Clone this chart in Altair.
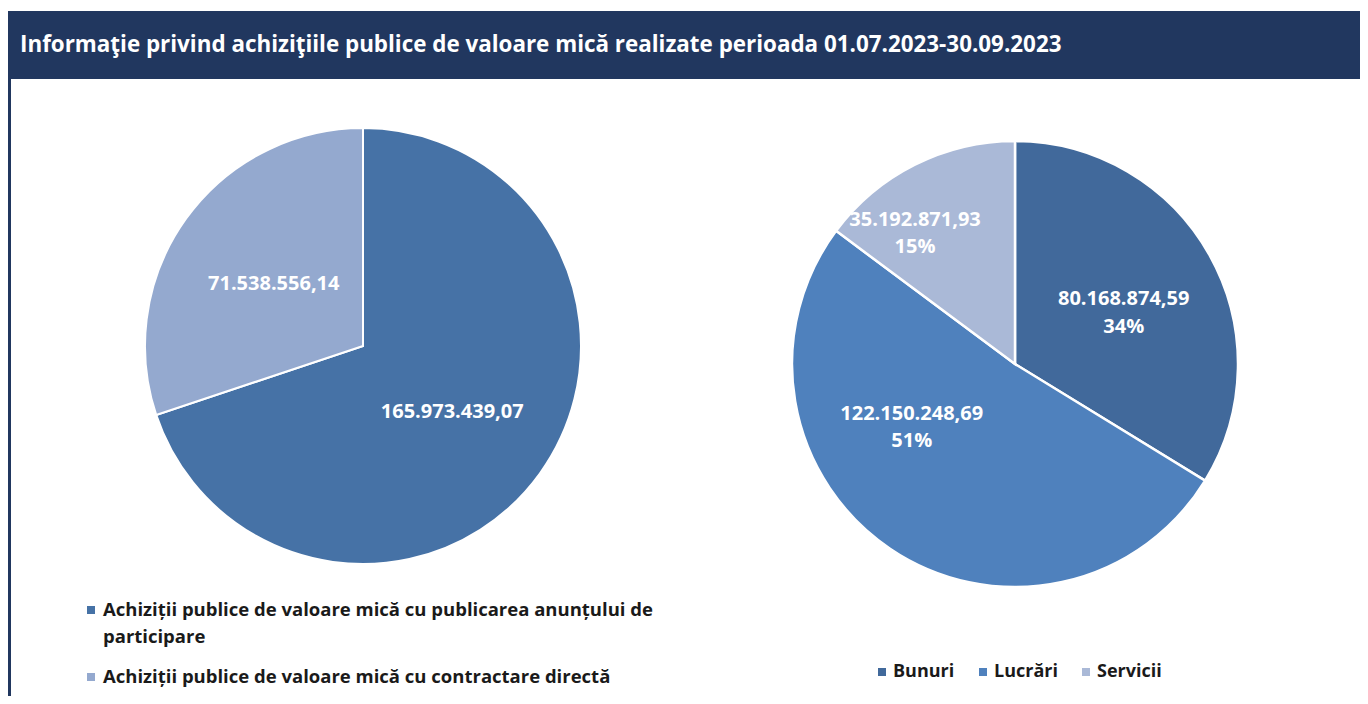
import altair as alt
import pandas as pd

# ---------------- data ----------------
title_text = "Informaţie privind achiziţiile publice de valoare mică realizate perioada 01.07.2023-30.09.2023"

left_categories = [
    "Achiziții publice de valoare mică cu publicarea anunțului de participare",
    "Achiziții publice de valoare mică cu contractare directă",
]
left_legend_text = [
    "Achiziții publice de valoare mică cu publicarea anunțului de\nparticipare",
    "Achiziții publice de valoare mică cu contractare directă",
]
left_values = [165973439.07, 71538556.14]
left_colors = ["#4672A6", "#94A9CF"]

right_categories = ["Bunuri", "Lucrări", "Servicii"]
right_values = [80168874.59, 122150248.69, 35192871.93]
right_colors = ["#41699B", "#4F81BD", "#AAB9D7"]


def ro_number(v):
    s = f"{v:,.2f}"
    return s.replace(",", "X").replace(".", ",").replace("X", ".")


right_total = sum(right_values)

left_df = pd.DataFrame({
    "cat": left_categories,
    "value": left_values,
    "idx": list(range(len(left_values))),
    "label": [ro_number(v) for v in left_values],
    "legend": left_legend_text,
    "color": left_colors,
})
right_df = pd.DataFrame({
    "cat": right_categories,
    "value": right_values,
    "idx": list(range(len(right_values))),
    "label": [f"{ro_number(v)}\n{round(v / right_total * 100)}%" for v in right_values],
})

W, H = 1352, 688
NAVY = "#21375F"
FONT = "Open Sans"

one = pd.DataFrame({"a": [0]})

# ---------------- frame ----------------
title_bar = alt.Chart(one).mark_rect(color=NAVY).encode(
    x=alt.value(0), x2=alt.value(W), y=alt.value(3), y2=alt.value(71)
)
left_border = alt.Chart(one).mark_rect(color=NAVY).encode(
    x=alt.value(0), x2=alt.value(3), y=alt.value(71), y2=alt.value(H)
)
title = alt.Chart(one).mark_text(
    text=title_text, font=FONT, fontSize=22.4, fontWeight="bold", color="white",
    align="left", baseline="middle"
).encode(x=alt.value(12), y=alt.value(37))

# ---------------- left pie ----------------
LCX, LCY, LR = 355, 338, 218
left_arc = alt.Chart(left_df).mark_arc(
    outerRadius=LR, stroke="white", strokeWidth=2
).encode(
    theta=alt.Theta("value:Q", stack=True),
    order=alt.Order("idx:Q"),
    color=alt.Color("color:N", scale=None),
    x=alt.value(LCX), y=alt.value(LCY),
)
left_text = alt.Chart(left_df).mark_text(
    radius=110, dy=2, font=FONT, fontSize=20, fontWeight="bold", color="white"
).encode(
    theta=alt.Theta("value:Q", stack=True),
    order=alt.Order("idx:Q"),
    text="label:N",
    x=alt.value(LCX), y=alt.value(LCY),
)

# left legend (drawn as marks: square + label per entry)
legend_rows_y = [602, 669]
left_legend = []
for i, cat in enumerate(left_categories):
    sub = alt.Chart(left_df).transform_filter(alt.datum.cat == cat)
    left_legend.append(
        sub.mark_square(size=64, opacity=1).encode(
            x=alt.value(83), y=alt.value(legend_rows_y[i]),
            color=alt.Color("color:N", scale=None),
        )
    )
    left_legend.append(
        sub.mark_text(
            font=FONT, fontSize=18.5, fontWeight="bold", color="#1A1A1A",
            align="left", baseline="middle", lineBreak="\n", lineHeight=27,
        ).encode(
            x=alt.value(95), y=alt.value(legend_rows_y[i]), text="legend:N"
        )
    )

# ---------------- right pie ----------------
RCX, RCY, RR = 1007, 356, 223
right_arc = alt.Chart(right_df).mark_arc(
    outerRadius=RR, stroke="white", strokeWidth=2.5
).encode(
    theta=alt.Theta("value:Q", stack=True),
    order=alt.Order("idx:Q"),
    color=alt.Color(
        "cat:N",
        scale=alt.Scale(domain=right_categories, range=right_colors),
        legend=alt.Legend(
            orient="none", legendX=865, legendY=655, direction="horizontal",
            title=None, symbolType="square", symbolSize=64, symbolStrokeWidth=0,
            labelFont=FONT, labelFontSize=18, labelFontWeight="bold",
            labelColor="#1A1A1A", labelLimit=0, labelOffset=2, padding=0,
            columnPadding=19,
        ),
    ),
    x=alt.value(RCX), y=alt.value(RCY),
)

label_tweaks = {  # category: (radius, dx, dy, line height)
    "Bunuri": (120, 4, -6, 28),
    "Lucrări": (120, -36, -49, 27),
    "Servicii": (167, -25, 5, 27),
}
right_texts = []
for cat, (rad, dx, dy, lh) in label_tweaks.items():
    right_texts.append(
        alt.Chart(right_df).mark_text(
            radius=rad, dx=dx, dy=dy, font=FONT, fontSize=20, fontWeight="bold",
            color="white", lineBreak="\n", lineHeight=lh
        ).encode(
            theta=alt.Theta("value:Q", stack=True),
            order=alt.Order("idx:Q"),
            text="label:N",
            opacity=alt.condition(alt.datum.cat == cat, alt.value(1), alt.value(0)),
            x=alt.value(RCX), y=alt.value(RCY),
        )
    )

chart = alt.layer(
    title_bar, left_border, title, left_arc, left_text, *left_legend,
    right_arc, *right_texts
).resolve_scale(
    color="independent", theta="independent"
).properties(
    width=W, height=H, autosize=alt.AutoSizeParams(type="none"), padding=0,
    background="white"
).configure_view(stroke=None)

chart.save("out.html", embed_options={"renderer": "svg", "actions": False})
